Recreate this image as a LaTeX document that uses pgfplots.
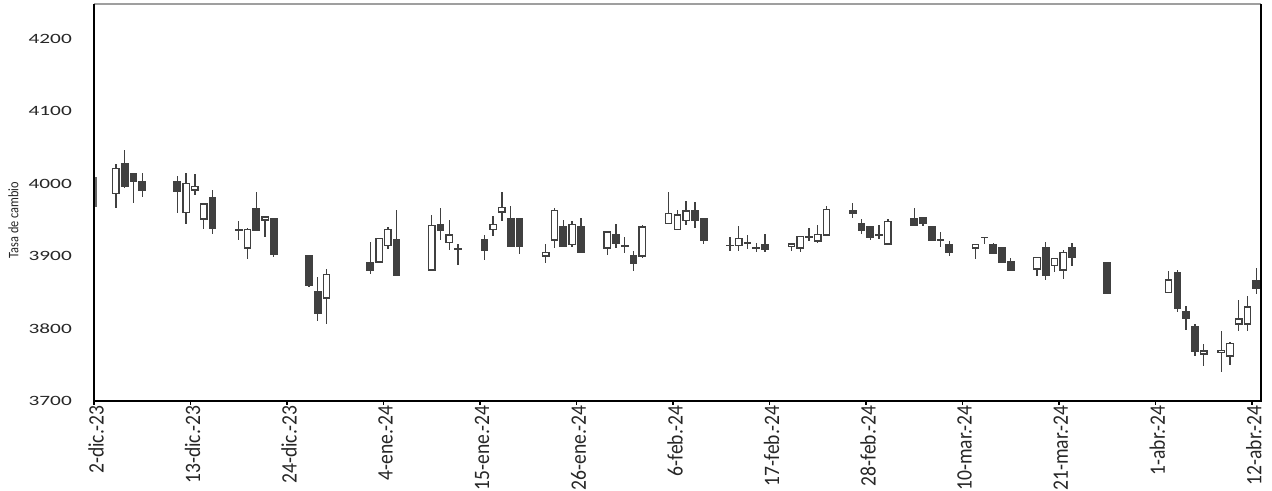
\documentclass[border=0pt]{standalone}
\usepackage{graphicx}
\usepackage{pgfplots}
\pgfplotsset{compat=1.18}
\usepackage{pgfplotstable}
\usepackage{fontspec}
\setmainfont{Carlito}
\newfontfamily\xfont[FakeStretch=0.89]{Carlito}
\newfontfamily\lfont[FakeStretch=0.85]{Carlito}
\definecolor{cdark}{HTML}{404040}
\newcommand{\yl}[1]{\scalebox{1.5}[1]{#1}}

\pgfplotstableread{
d o h l c
2 3986.5 4027 3966 4021
3 4027 4047 3994 3996
4 4014 4015 3974 4003
5 4002 4015 3981 3991
9 4002 4010 3959 3990
10 3960 4015 3944 4000
11 3991 4013 3985 3996
12 3951 3973 3937 3972
13 3981 3991 3930 3939
16 3936 3948 3922 3936
17 3911 3939 3896 3937
18 3966 3989 3935 3935
19 3950 3955 3927 3954
20 3951 3952 3899 3902
24 3901 3902 3858 3860
25 3851 3871 3811 3821
26 3842 3882 3806 3875
31 3891 3919 3876 3881
32 3892 3925 3891 3924
33 3915 3940 3910 3937
34 3922 3963 3872 3874
38 3881 3957 3880 3942
39 3943 3966 3922 3935
40 3919 3950 3909 3929
41 3910 3917 3888 3910
44 3922 3929 3894 3908
45 3937 3955 3928 3944
46 3961 3988 3949 3967
47 3951 3969 3912 3913
48 3951 3952 3903 3914
51 3900 3917 3890 3905
52 3922 3967 3911 3963
53 3941 3950 3912 3913
54 3916 3948 3913 3944
55 3940 3953 3904 3905
58 3911 3933 3901 3933
59 3930 3944 3911 3918
60 3914 3927 3904 3914
61 3901 3907 3879 3890
62 3900 3943 3897 3940
65 3945 3988 3944 3959
66 3937 3964 3936 3957
67 3949 3976 3943 3962
68 3962 3975 3939 3949
69 3952 3953 3917 3922
72 3915 3926 3907 3915
73 3915 3942 3907 3924
74 3918 3929 3910 3918
75 3911 3918 3906 3911
76 3916 3931 3906 3910
79 3914 3918 3907 3917
80 3911 3927 3906 3927
81 3927 3939 3921 3927
82 3921 3943 3918 3930
83 3929 3969 3928 3964
86 3962 3973 3953 3959
87 3945 3951 3931 3935
88 3941 3942 3922 3926
89 3929 3943 3924 3929
90 3917 3951 3916 3948
93 3951 3966 3941 3942
94 3953 3954 3941 3946
95 3941 3942 3921 3922
96 3922 3933 3912 3922
97 3916 3921 3900 3905
100 3911 3916 3896 3916
101 3926 3927 3917 3926
102 3916 3918 3903 3904
103 3911 3912 3891 3892
104 3892 3898 3879 3881
107 3882 3898 3872 3898
108 3911 3919 3867 3873
109 3887 3897 3878 3897
110 3881 3908 3868 3905
111 3911 3918 3886 3898
115 3891 3891 3849 3849
122 3850 3879 3849 3867
123 3877 3881 3823 3828
124 3823 3831 3798 3814
125 3802 3806 3762 3769
126 3765 3779 3748 3769
128 3767 3797 3740 3770
129 3762 3782 3750 3779
130 3806 3840 3797 3813
131 3806 3845 3797 3830
132 3866 3883 3848 3856
}\candles

\begin{document}
\begin{tikzpicture}
\begin{axis}[
  name=ax,
  at={(0,0)}, anchor=south west,
  scale only axis,
  width=1166.7pt, height=397pt,
  xmin=0, xmax=133,
  ymin=3700, ymax=4248,
  xtick={0,11,...,132},
  xticklabels={2-dic.-23,13-dic.-23,24-dic.-23,4-ene.-24,15-ene.-24,26-ene.-24,6-feb.-24,17-feb.-24,28-feb.-24,10-mar.-24,21-mar.-24,1-abr.-24,12-abr.-24},
  ytick={3700,3800,...,4200},
  yticklabels={\yl{3700},\yl{3800},\yl{3900},\yl{4000},\yl{4100},\yl{4200}},
  xtick pos=bottom, ytick pos=left,
  xtick align=outside,
  major tick length=4pt,
  xtick style={draw=black, line width=1.3pt},
  ytick style={draw=none},
  yticklabel style={font=\fontsize{14.2}{16}\selectfont, text=black!85, inner sep=0pt, anchor=east, xshift=-22pt},
  xticklabel style={font=\xfont\fontsize{22}{24}\selectfont, text=black!85, rotate=90, anchor=east, inner sep=0pt, yshift=-2pt},
  ylabel={Tasa de cambio},
  every axis y label/.style={at={(rel axis cs:0,0.456)}, xshift=-80.5pt, rotate=90, anchor=center, font=\lfont\fontsize{14.5}{16}\selectfont, text=black!85},
  axis line style={draw=black, line width=0.4pt},
]
% clipped candle of 1-dic at the left edge
\addplot[draw=cdark!80!white, line width=2.4pt, forget plot] coordinates {(0.17,3968) (0.17,4009)};
% wicks
\addplot[draw=none, mark=none, forget plot,
  error bars/.cd, y dir=both, y explicit, error mark=none,
  error bar style={draw=cdark, line width=1.3pt}]
  table[x expr=\thisrow{d}+0.5, y expr={(\thisrow{h}+\thisrow{l})/2}, y error expr={(\thisrow{h}-\thisrow{l})/2}] {\candles};
% bodies (outline / dark fill)
\addplot[draw=none, mark=none, forget plot,
  error bars/.cd, y dir=both, y explicit, error mark=none,
  error bar style={draw=cdark, line width=7.7pt}]
  table[x expr=\thisrow{d}+0.5, y expr={(\thisrow{o}+\thisrow{c})/2}, y error expr={abs(\thisrow{c}-\thisrow{o})/2+1.0}] {\candles};
% white interior of rising candles
\addplot[draw=none, mark=none, forget plot,
  restrict expr to domain={\thisrow{c}-\thisrow{o}}{2.5:1000},
  error bars/.cd, y dir=both, y explicit, error mark=none,
  error bar style={draw=white, line width=5.1pt}]
  table[x expr=\thisrow{d}+0.5, y expr={(\thisrow{o}+\thisrow{c})/2}, y error expr={(\thisrow{c}-\thisrow{o})/2-1.0}] {\candles};
\end{axis}
\draw[gray!75, line width=1.5pt] (ax.north west) -- (ax.north east);
\draw[black, line width=1.3pt] (ax.south east) -- (ax.north east);
\draw[black, line width=1.5pt] (ax.north west) -- (ax.south west) -- (ax.south east);
\path[use as bounding box] (-94pt,-88pt) rectangle (1178pt,401pt);
\end{tikzpicture}
\end{document}
